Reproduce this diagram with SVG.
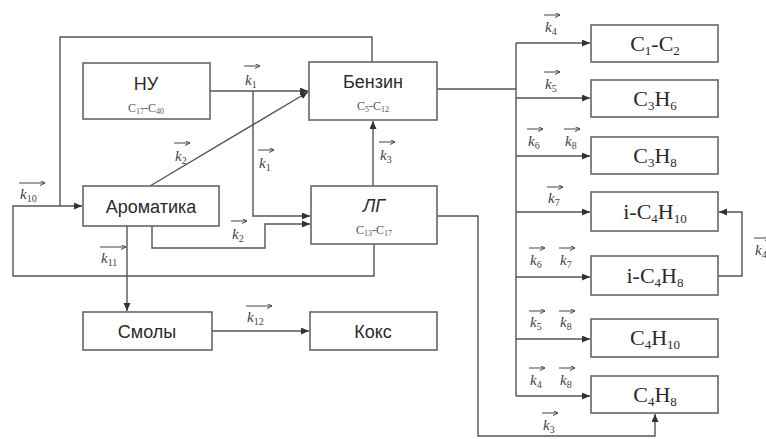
<svg xmlns="http://www.w3.org/2000/svg" width="766" height="439" viewBox="0 0 766 439">
<defs>
<marker id="ah" markerUnits="userSpaceOnUse" markerWidth="9" markerHeight="8" refX="8" refY="3.5" orient="auto">
<path d="M0,0 L8,3.5 L0,7 z" fill="#333"/>
</marker>
<marker id="va" markerUnits="userSpaceOnUse" markerWidth="6" markerHeight="6" refX="5" refY="2.5" orient="auto">
<path d="M0,0 L5,2.5 L0,5" fill="none" stroke="#444" stroke-width="1"/>
</marker>
<style>
.box{fill:#fff;stroke:#666;stroke-width:1.6}
.ln{fill:none;stroke:#555;stroke-width:1.4}
.ar{marker-end:url(#ah)}
.vec{fill:none;stroke:#444;stroke-width:1;marker-end:url(#va)}
.k{font-family:"Liberation Serif",serif;font-style:italic;font-size:15px;fill:#444}
.ks{font-size:10px;font-style:normal}
.ru{font-family:"Liberation Sans",Arial,sans-serif;font-size:18px;fill:#2a2a2a;text-anchor:middle}
.sub{font-family:"Liberation Serif",serif;font-size:12px;fill:#555;text-anchor:middle}
.ss{font-size:8px}
.ch{font-family:"Liberation Serif",serif;font-size:22px;fill:#2a2a2a;text-anchor:middle}
.cs{font-size:13px}
</style>
</defs>

<g id="connectors">
<path class="ln ar" d="M210,91 H308"/>
<path class="ln ar" d="M253,91 V216 H310"/>
<path class="ln ar" d="M150,186 L308,92"/>
<path class="ln ar" d="M152,226 V248 H265 V224 H310"/>
<path class="ln ar" d="M373,186 V121"/>
<path class="ln" d="M372,62 V37 H60 V206"/>
<path class="ln ar" d="M374,244 V276 H13 V206 H82"/>
<path class="ln ar" d="M127,226 V311"/>
<path class="ln ar" d="M212,331 H309"/>
<path class="ln" d="M437,89 H516"/>
<path class="ln" d="M516,43 V396"/>
<path class="ln ar" d="M516,43 H590"/>
<path class="ln ar" d="M516,98 H590"/>
<path class="ln ar" d="M516,156 H590"/>
<path class="ln ar" d="M516,212 H590"/>
<path class="ln ar" d="M516,277 H590"/>
<path class="ln ar" d="M516,339 H590"/>
<path class="ln ar" d="M516,396 H590"/>
<path class="ln ar" d="M437,216 H478 V436 H655 V414"/>
<path class="ln ar" d="M718,276 H742 V212 H719"/>
</g>

<g id="labels">
<path class="vec" d="M244,66 H260"/><text class="k" x="245" y="85">k<tspan class="ks" dy="3">1</tspan></text>
<path class="vec" d="M258,150 H274"/><text class="k" x="259" y="168">k<tspan class="ks" dy="3">1</tspan></text>
<path class="vec" d="M379,142 H395"/><text class="k" x="380" y="160">k<tspan class="ks" dy="3">3</tspan></text>
<path class="vec" d="M174,143 H190"/><text class="k" x="175" y="161">k<tspan class="ks" dy="3">2</tspan></text>
<path class="vec" d="M231,221 H247"/><text class="k" x="232" y="239">k<tspan class="ks" dy="3">2</tspan></text>
<path class="vec" d="M19,183 H45"/><text class="k" x="20" y="199">k<tspan class="ks" dy="3">10</tspan></text>
<path class="vec" d="M100,247 H126"/><text class="k" x="101" y="263">k<tspan class="ks" dy="3">11</tspan></text>
<path class="vec" d="M246,306 H272"/><text class="k" x="247" y="322">k<tspan class="ks" dy="3">12</tspan></text>
<path class="vec" d="M544,15 H560"/><text class="k" x="545" y="32">k<tspan class="ks" dy="3">4</tspan></text>
<path class="vec" d="M544,72 H560"/><text class="k" x="545" y="89">k<tspan class="ks" dy="3">5</tspan></text>
<path class="vec" d="M527,129 H543"/><text class="k" x="528" y="146">k<tspan class="ks" dy="3">6</tspan></text>
<path class="vec" d="M564,129 H580"/><text class="k" x="565" y="146">k<tspan class="ks" dy="3">8</tspan></text>
<path class="vec" d="M547,187 H563"/><text class="k" x="548" y="203">k<tspan class="ks" dy="3">7</tspan></text>
<path class="vec" d="M529,248 H545"/><text class="k" x="530" y="265">k<tspan class="ks" dy="3">6</tspan></text>
<path class="vec" d="M559,248 H575"/><text class="k" x="560" y="265">k<tspan class="ks" dy="3">7</tspan></text>
<path class="vec" d="M529,311 H545"/><text class="k" x="530" y="327">k<tspan class="ks" dy="3">5</tspan></text>
<path class="vec" d="M559,311 H575"/><text class="k" x="560" y="327">k<tspan class="ks" dy="3">8</tspan></text>
<path class="vec" d="M529,368 H545"/><text class="k" x="530" y="385">k<tspan class="ks" dy="3">4</tspan></text>
<path class="vec" d="M559,368 H575"/><text class="k" x="560" y="385">k<tspan class="ks" dy="3">8</tspan></text>
<path class="vec" d="M542,413 H558"/><text class="k" x="543" y="430">k<tspan class="ks" dy="3">3</tspan></text>
<path class="vec" d="M754,238 H770"/><text class="k" x="755" y="255">k<tspan class="ks" dy="3">4</tspan></text>
</g>

<g id="nu"><rect class="box" x="83" y="63" width="127" height="56"/>
<text class="ru" x="146" y="90">НУ</text>
<text class="sub" x="146" y="112">C<tspan class="ss" dy="2">17</tspan><tspan dy="-2">-C</tspan><tspan class="ss" dy="2">40</tspan></text></g>

<g id="benzin"><rect class="box" x="309" y="62" width="128" height="58"/>
<text class="ru" x="373" y="88">Бензин</text>
<text class="sub" x="373" y="110">C<tspan class="ss" dy="2">5</tspan><tspan dy="-2">-C</tspan><tspan class="ss" dy="2">12</tspan></text></g>

<g id="aromatika"><rect class="box" x="83" y="186" width="136" height="40"/>
<text class="ru" x="151" y="213">Ароматика</text></g>

<g id="lg"><rect class="box" x="311" y="186" width="126" height="58"/>
<text class="ru" x="374" y="212" font-style="italic">ЛГ</text>
<text class="sub" x="374" y="234">C<tspan class="ss" dy="2">13</tspan><tspan dy="-2">-C</tspan><tspan class="ss" dy="2">17</tspan></text></g>

<g id="smoly"><rect class="box" x="83" y="312" width="129" height="38"/>
<text class="ru" x="147" y="338">Смолы</text></g>

<g id="koks"><rect class="box" x="310" y="312" width="127" height="38"/>
<text class="ru" x="373" y="338">Кокс</text></g>

<g id="c1c2"><rect class="box" x="591" y="25" width="127" height="37"/>
<text class="ch" x="655" y="51">C<tspan class="cs" dy="4">1</tspan><tspan dy="-4">-C</tspan><tspan class="cs" dy="4">2</tspan></text></g>

<g id="c3h6"><rect class="box" x="591" y="80" width="127" height="37"/>
<text class="ch" x="655" y="106">C<tspan class="cs" dy="4">3</tspan><tspan dy="-4">H</tspan><tspan class="cs" dy="4">6</tspan></text></g>

<g id="c3h8"><rect class="box" x="591" y="137" width="127" height="37"/>
<text class="ch" x="655" y="163">C<tspan class="cs" dy="4">3</tspan><tspan dy="-4">H</tspan><tspan class="cs" dy="4">8</tspan></text></g>

<g id="ic4h10"><rect class="box" x="591" y="192" width="127" height="39"/>
<text class="ch" x="655" y="219">i-C<tspan class="cs" dy="4">4</tspan><tspan dy="-4">H</tspan><tspan class="cs" dy="4">10</tspan></text></g>

<g id="ic4h8"><rect class="box" x="591" y="256" width="127" height="39"/>
<text class="ch" x="655" y="283">i-C<tspan class="cs" dy="4">4</tspan><tspan dy="-4">H</tspan><tspan class="cs" dy="4">8</tspan></text></g>

<g id="c4h10"><rect class="box" x="591" y="319" width="127" height="38"/>
<text class="ch" x="655" y="345">C<tspan class="cs" dy="4">4</tspan><tspan dy="-4">H</tspan><tspan class="cs" dy="4">10</tspan></text></g>

<g id="c4h8"><rect class="box" x="591" y="376" width="127" height="37"/>
<text class="ch" x="655" y="402">C<tspan class="cs" dy="4">4</tspan><tspan dy="-4">H</tspan><tspan class="cs" dy="4">8</tspan></text></g>
</svg>
